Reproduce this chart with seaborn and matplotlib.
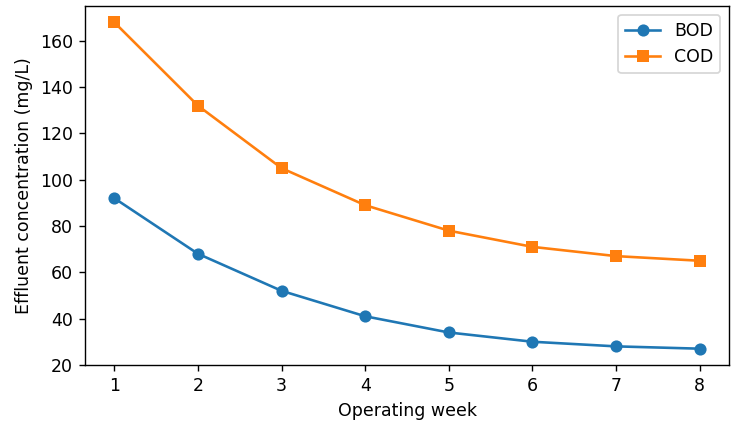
import matplotlib
matplotlib.use("Agg")
import matplotlib.pyplot as plt
import seaborn as sns
import pandas as pd

weeks = [1, 2, 3, 4, 5, 6, 7, 8]
bod = [92, 68, 52, 41, 34, 30, 28, 27]
cod = [168, 132, 105, 89, 78, 71, 67, 65]
series_names = ["BOD", "COD"]

df = pd.DataFrame({
    "week": weeks * 2,
    "value": bod + cod,
    "param": [series_names[0]] * len(weeks) + [series_names[1]] * len(weeks),
})

DPI = 125
plt.rcParams["font.family"] = ["DejaVu Sans"]
fig, ax = plt.subplots(figsize=(737 / DPI, 434 / DPI), dpi=DPI)
fig.subplots_adjust(left=0.1155, right=0.989, top=0.986, bottom=0.159)

sns.lineplot(
    data=df, x="week", y="value", hue="param", style="param",
    markers=["o", "s"], dashes=False, markersize=7, markeredgewidth=0,
    palette=["#1f77b4", "#ff7f0e"], linewidth=1.5, ax=ax,
)

ax.set_xticks(weeks)
ax.set_xlabel("Operating week")
ax.set_ylabel("Effluent concentration (mg/L)")
ax.legend(title=None, loc="upper right")

fig.savefig("out.png", dpi=DPI)
